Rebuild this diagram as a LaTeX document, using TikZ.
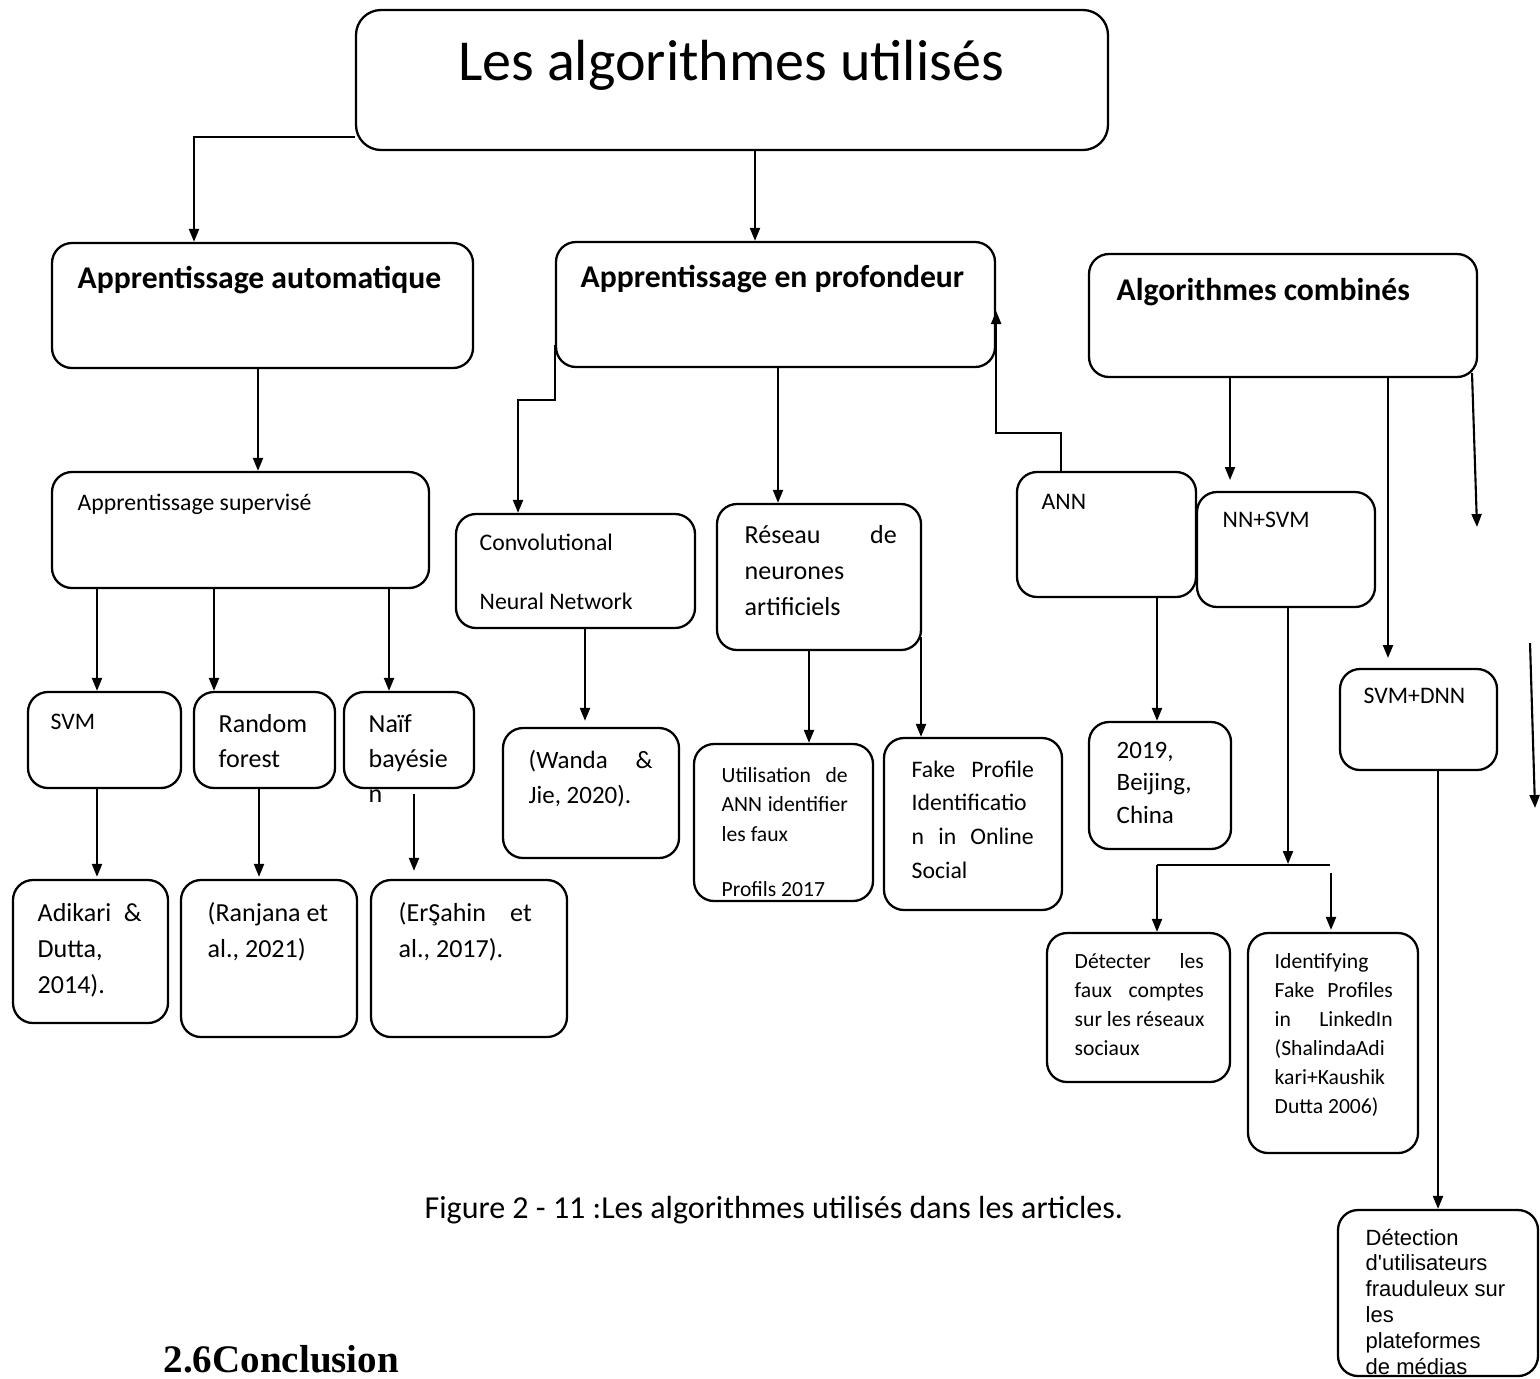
\documentclass[tikz,border=0pt]{standalone}
\usepackage{fontspec}
\setmainfont{Carlito}
\newfontfamily\arialfont{Liberation Sans}
\newfontfamily\timesfont{Liberation Serif}
\usetikzlibrary{arrows.meta,fit}

% one row of a stacked label, and one justified row of a given width
\newcommand\textrow[1]{\hbox{#1}}
\newcommand\jrow[2]{\hbox to #1{#2}}
% stacked label whose baseline is that of its first row
\newcommand\stack[1]{\vtop{#1}}

\begin{document}
\begin{tikzpicture}[x=0.01cm,y=-0.01cm,
  box/.style={draw, line width=0.65pt, rounded corners=0.2cm, inner sep=0pt},
  conn/.style={line width=0.6pt},
  arr/.style={conn, -{Triangle[length=0.13cm,width=0.1cm]}},
  lbl/.style={inner sep=0pt, anchor=base west},
  fbig/.style={font=\fontsize{16.5pt}{20pt}\selectfont},
  fhead/.style={font=\bfseries\fontsize{9pt}{11pt}\selectfont},
  fsmall/.style={font=\fontsize{6.75pt}{#1}\selectfont},
  fmid/.style={font=\fontsize{7.4pt}{#1}\selectfont},
  fmidb/.style={font=\fontsize{7.1pt}{#1}\selectfont},
  ftiny/.style={font=\fontsize{6.15pt}{#1}\selectfont},
]
\useasboundingbox (0,0) rectangle (1540,1378);

% ---------- boxes ----------
\node[box, rounded corners=0.25cm, fit={(356,10) (1108,150)}] (title) {};
\node[box, fit={(52,243) (473,368)}]   (ml) {};
\node[box, fit={(556,242) (995,367)}]  (dl) {};
\node[box, fit={(1089,254) (1477,377)}] (cb) {};
\node[box, fit={(52,472) (429,588)}]   (sup) {};
\node[box, fit={(456,514) (695,628)}]  (cnn) {};
\node[box, fit={(717,504) (921,650)}]  (rna) {};
\node[box, fit={(1017,472) (1196,597)}] (ann) {};
\node[box, fit={(1197,492) (1375,607)}] (nnsvm) {};
\node[box, fit={(28,692) (181,788)}]   (svm) {};
\node[box, fit={(194,692) (335,788)}]  (rf) {};
\node[box, fit={(344,692) (474,788)}]  (nb) {};
\node[box, fit={(503,728) (679,858)}]  (wanda) {};
\node[box, fit={(694,744) (873,901)}]  (util) {};
\node[box, fit={(884,738) (1062,910)}] (fake) {};
\node[box, fit={(1089,722) (1231,849)}] (bj) {};
\node[box, fit={(1340,669) (1497,770)}] (svmdnn) {};
\node[box, fit={(13,880) (168,1023)}]  (adik) {};
\node[box, fit={(181,880) (357,1037)}] (ranj) {};
\node[box, fit={(371,880) (567,1037)}] (ersa) {};
\node[box, fit={(1047,933) (1230,1082)}] (det) {};
\node[box, fit={(1248,933) (1418,1153)}] (ident) {};
\node[box, fit={(1338,1210) (1538,1376)}] (fraud) {};

% ---------- texts ----------
\node[fbig, inner sep=0pt, anchor=base] (titleT) at (731,80) {Les algorithmes utilisés};
\node[lbl, fhead] (mlT) at (77,288) {Apprentissage automatique};
\node[lbl, fhead] (dlT) at (580,287) {Apprentissage en profondeur};
\node[lbl, fhead] (cbT) at (1116,300) {Algorithmes combinés};
\node[lbl, fsmall=8pt] (supT) at (77,510) {Apprentissage supervisé};
\node[lbl, fsmall=16.8pt] (cnnT) at (479,550)
  {\stack{\textrow{Convolutional}\textrow{Neural Network}}};
\node[lbl, fmid=10.24pt] (rnaT) at (744,543)
  {\stack{\jrow{1.52cm}{Réseau\hfill de}\textrow{neurones}\textrow{artificiels}}};
\node[lbl, fsmall=8pt] (annT) at (1041,509) {ANN};
\node[lbl, fsmall=8pt] (nnsvmT) at (1222,527) {NN+SVM};
\node[lbl, fsmall=8pt] (svmT) at (50,729) {SVM};
\node[lbl, fmid=9.96pt] (rfT) at (218,732)
  {\stack{\textrow{Random}\textrow{forest}}};
\node[lbl, fmid=9.96pt] (nbT) at (368,732)
  {\stack{\textrow{Naïf}\textrow{bayésie}\textrow{n}}};
\node[lbl, fmidb=9.96pt] (wandaT) at (528,768)
  {\stack{\jrow{1.24cm}{(Wanda\hfill\&}\textrow{Jie, 2020).}}};
\node[lbl, ftiny=8.4pt] (utilT) at (721,782)
  {\stack{\jrow{1.26cm}{Utilisation\hfill de}\jrow{1.26cm}{ANN\hfill identifier}\textrow{les faux}\vskip0.255cm\textrow{Profils 2017}}};
\node[lbl, fsmall=9.6pt] (fakeT) at (911,777)
  {\stack{\jrow{1.22cm}{Fake\hfill Profile}\textrow{Identificatio}\jrow{1.22cm}{n\hfill in\hfill Online}\textrow{Social}}};
\node[lbl, fmidb=9.25pt] (bjT) at (1116,758)
  {\stack{\textrow{2019,}\textrow{Beijing,}\textrow{China}}};
\node[lbl, fsmall=8pt] (svmdnnT) at (1363,703) {SVM+DNN};
\node[lbl, fmid=10.24pt] (adikT) at (37,921)
  {\stack{\jrow{1.04cm}{Adikari\hfill\&}\textrow{Dutta,}\textrow{2014).}}};
\node[lbl, fmid=10.24pt] (ranjT) at (207,921)
  {\stack{\textrow{(Ranjana et}\textrow{al., 2021)}}};
\node[lbl, fmid=10.24pt] (ersaT) at (398,921)
  {\stack{\jrow{1.33cm}{(ErŞahin\hfill et}\textrow{al., 2017).}}};
\node[lbl, ftiny=8.25pt] (detT) at (1074,968)
  {\stack{\jrow{1.29cm}{Détecter\hfill les}\jrow{1.29cm}{faux\hfill comptes}\textrow{sur les réseaux}\textrow{sociaux}}};
\node[lbl, ftiny=8.25pt] (identT) at (1274,968)
  {\stack{\textrow{Identifying}\jrow{1.18cm}{Fake\hfill Profiles}\jrow{1.18cm}{in\hfill LinkedIn}\textrow{(ShalindaAdi}\textrow{kari+Kaushik}\textrow{Dutta 2006)}}};
\node[lbl, font=\arialfont\fontsize{6.26pt}{7.34pt}\selectfont] (fraudT) at (1365,1245)
  {\stack{\textrow{Détection}\textrow{d'utilisateurs}\textrow{frauduleux sur}\textrow{les}\textrow{plateformes}\textrow{de médias}}};

\node[lbl, font=\fontsize{9.1pt}{11pt}\selectfont] (caption) at (424,1218)
  {Figure 2 - 11 :Les algorithmes utilisés dans les articles.};
\node[lbl, font=\timesfont\bfseries\fontsize{11.1pt}{13pt}\selectfont] (concl) at (163,1372)
  {2.6Conclusion};

% ---------- route points ----------
\coordinate (k1) at (194,137);
\coordinate (k2) at (755,0);
\coordinate (k3) at (258,0);
\coordinate (kSvm) at (97,0);
\coordinate (kRf) at (214,0);
\coordinate (kNb) at (389,0);
\coordinate (k5a) at (556,345);
\coordinate (k5b) at (518,400);
\coordinate (k6) at (778,0);
\coordinate (k7) at (1061,433);
\coordinate (k7c) at (995,311);
\coordinate (k8) at (1230,480);
\coordinate (k9) at (1388,658);
\coordinate (k10a) at (1472,373);
\coordinate (k10b) at (1477,527);
\coordinate (k11a) at (1530,643);
\coordinate (k11b) at (1535,808);
\coordinate (k12) at (585,0);
\coordinate (k13) at (809,0);
\coordinate (k14) at (921,637);
\coordinate (k15) at (1157,0);
\coordinate (k16) at (1288,864);
\coordinate (barL) at (1157,865);
\coordinate (barR) at (1330,865);
\coordinate (k16b) at (1331,873);
\coordinate (kAd) at (97,0);
\coordinate (kRa) at (259,0);
\coordinate (kEr) at (414,0);
\coordinate (k20) at (1438,0);

% ---------- connectors ----------
\draw[arr] (title.west |- k1) -| (ml.north -| k1);
\draw[arr] (title.south -| k2) -- (dl.north -| k2);
\draw[arr] (ml.south -| k3) -- (sup.north -| k3);
\draw[arr] (sup.south -| kSvm) -- (svm.north -| kSvm);
\draw[arr] (sup.south -| kRf) -- (rf.north -| kRf);
\draw[arr] (sup.south -| kNb) -- (nb.north -| kNb);

\draw[arr] (dl.west |- k5a) |- (k5b) -- (cnn.north -| k5b);
\draw[arr] (dl.south -| k6) -- (rna.north -| k6);
\draw[arr] (ann.north -| k7) |- (dl.east |- k7) -- (dl.east |- k7c);

\draw[arr] (cb.south -| k8) -- (k8);
\draw[arr] (cb.south -| k9) -- (k9);
\draw[arr] (k10a) -- (k10b);
\draw[arr] (k11a) -- (k11b);

\draw[arr, shorten >=0.06cm] (cnn.south -| k12) -- (wanda.north -| k12);
\draw[arr] (rna.south -| k13) -- (util.north -| k13);
\draw[arr] (k14) -- (fake.north -| k14);

\draw[arr] (ann.south -| k15) -- (bj.north -| k15);
\draw[arr] (nnsvm.south -| k16) -- (k16);
\draw[conn] (barL) -- (barR);
\draw[arr] (barL) -- (det.north -| barL);
\draw[arr, shorten >=0.02cm] (k16b) -- (ident.north -| k16b);

\draw[arr, shorten >=0.02cm] (svm.south -| kAd) -- (adik.north -| kAd);
\draw[arr, shorten >=0.02cm] (rf.south -| kRa) -- (ranj.north -| kRa);
\draw[arr, shorten <=0.05cm, shorten >=0.08cm] (nb.south -| kEr) -- (ersa.north -| kEr);

\draw[arr] (svmdnn.south -| k20) -- (fraud.north -| k20);
\end{tikzpicture}
\end{document}
